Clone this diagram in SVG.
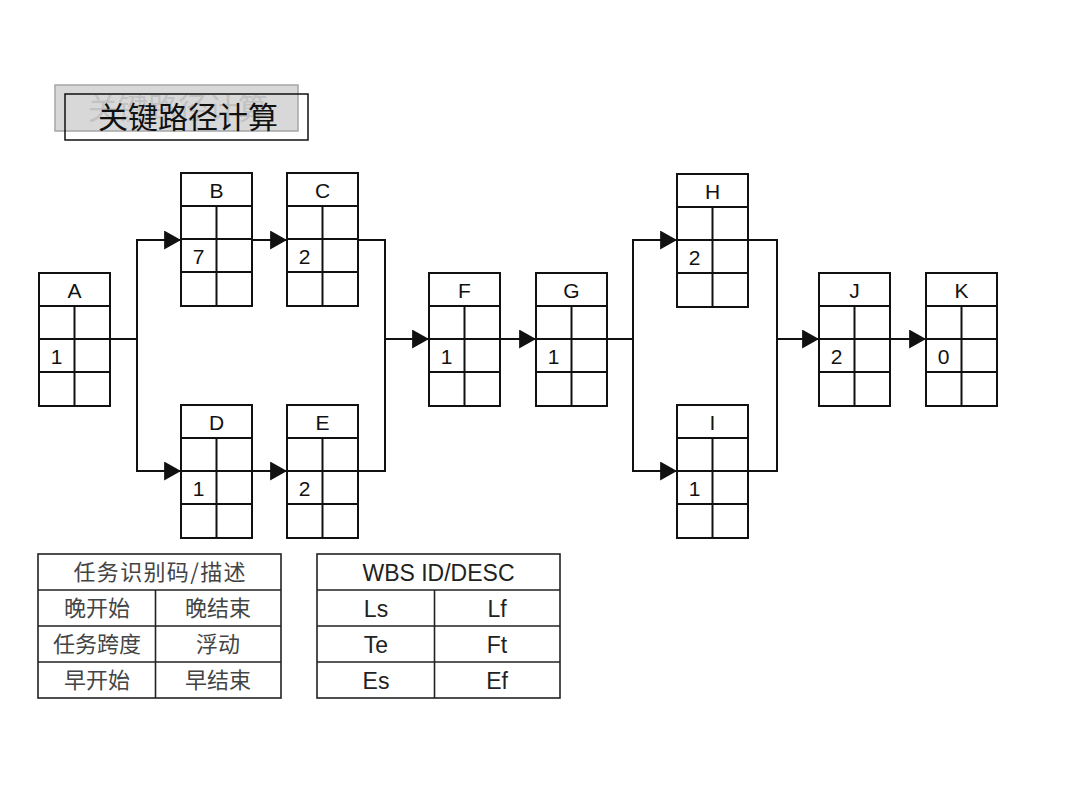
<svg xmlns="http://www.w3.org/2000/svg" width="1080" height="810" viewBox="0 0 1080 810">
<style>
.box{fill:none;stroke:#111;stroke-width:2}
.lbl{font-family:"Liberation Sans",Arial,sans-serif;font-size:21px;fill:#111;text-anchor:middle}
.conn{fill:none;stroke:#111;stroke-width:2}
.tbl{fill:none;stroke:#222;stroke-width:1.6}
.cjk{font-family:"Noto Sans CJK SC",sans-serif;font-size:22px;fill:#444;text-anchor:middle}
.lat{font-family:"Liberation Sans",Arial,sans-serif;font-size:23px;fill:#222;text-anchor:middle}
.title{font-family:"Noto Sans CJK SC",sans-serif;font-size:30px}
</style>
<defs>
<marker id="arr" markerUnits="userSpaceOnUse" viewBox="0 0 16 18" refX="16" refY="9" markerWidth="17" markerHeight="19" orient="auto">
<path d="M0,0 L16,9 L0,18 z" fill="#111"/>
</marker>
<clipPath id="ghostclip"><rect x="55" y="95" width="243" height="36"/></clipPath>
<g id="cell">
<rect class="box" x="0" y="0" width="71" height="133"/>
<line class="box" x1="0" y1="33" x2="71" y2="33"/>
<line class="box" x1="0" y1="66" x2="71" y2="66"/>
<line class="box" x1="0" y1="99" x2="71" y2="99"/>
<line class="box" x1="35.5" y1="33" x2="35.5" y2="133"/>
</g>
</defs>
<rect width="1080" height="810" fill="#fff"/>

<g id="title">
<rect x="55" y="85" width="243" height="46" fill="#d8d8d8" stroke="#a6a6a6" stroke-width="1.5"/>
<text class="title" x="88" y="119" fill="#c2c2c2" clip-path="url(#ghostclip)">关键路径计算</text>
<rect x="65" y="94" width="243" height="46" fill="none" stroke="#111" stroke-width="1.5"/>
<text class="title" x="98" y="128" fill="#111">关键路径计算</text>
</g>

<g id="connectors">
<polyline class="conn" points="110,339 137,339"/>
<line class="conn" x1="137" y1="239" x2="137" y2="472"/>
<line class="conn" x1="137" y1="240" x2="181" y2="240" marker-end="url(#arr)"/>
<line class="conn" x1="137" y1="471" x2="181" y2="471" marker-end="url(#arr)"/>
<line class="conn" x1="252" y1="240" x2="287" y2="240" marker-end="url(#arr)"/>
<line class="conn" x1="252" y1="471" x2="287" y2="471" marker-end="url(#arr)"/>
<line class="conn" x1="358" y1="240" x2="385" y2="240"/>
<line class="conn" x1="358" y1="471" x2="385" y2="471"/>
<line class="conn" x1="385" y1="239" x2="385" y2="472"/>
<line class="conn" x1="385" y1="339" x2="429" y2="339" marker-end="url(#arr)"/>
<line class="conn" x1="500" y1="339" x2="536" y2="339" marker-end="url(#arr)"/>
<line class="conn" x1="607" y1="339" x2="633" y2="339"/>
<line class="conn" x1="633" y1="239" x2="633" y2="472"/>
<line class="conn" x1="633" y1="240" x2="677" y2="240" marker-end="url(#arr)"/>
<line class="conn" x1="633" y1="471" x2="677" y2="471" marker-end="url(#arr)"/>
<line class="conn" x1="748" y1="240" x2="777" y2="240"/>
<line class="conn" x1="748" y1="471" x2="777" y2="471"/>
<line class="conn" x1="777" y1="239" x2="777" y2="472"/>
<line class="conn" x1="777" y1="339" x2="819" y2="339" marker-end="url(#arr)"/>
<line class="conn" x1="890" y1="339" x2="926" y2="339" marker-end="url(#arr)"/>
</g>

<g id="node-A" transform="translate(39,273)"><use href="#cell"/><text class="lbl" x="35.5" y="25">A</text><text class="lbl" x="17.5" y="91">1</text></g>
<g id="node-B" transform="translate(181,173)"><use href="#cell"/><text class="lbl" x="35.5" y="25">B</text><text class="lbl" x="17.5" y="91">7</text></g>
<g id="node-C" transform="translate(287,173)"><use href="#cell"/><text class="lbl" x="35.5" y="25">C</text><text class="lbl" x="17.5" y="91">2</text></g>
<g id="node-D" transform="translate(181,405)"><use href="#cell"/><text class="lbl" x="35.5" y="25">D</text><text class="lbl" x="17.5" y="91">1</text></g>
<g id="node-E" transform="translate(287,405)"><use href="#cell"/><text class="lbl" x="35.5" y="25">E</text><text class="lbl" x="17.5" y="91">2</text></g>
<g id="node-F" transform="translate(429,273)"><use href="#cell"/><text class="lbl" x="35.5" y="25">F</text><text class="lbl" x="17.5" y="91">1</text></g>
<g id="node-G" transform="translate(536,273)"><use href="#cell"/><text class="lbl" x="35.5" y="25">G</text><text class="lbl" x="17.5" y="91">1</text></g>
<g id="node-H" transform="translate(677,174)"><use href="#cell"/><text class="lbl" x="35.5" y="25">H</text><text class="lbl" x="17.5" y="91">2</text></g>
<g id="node-I" transform="translate(677,405)"><use href="#cell"/><text class="lbl" x="35.5" y="25">I</text><text class="lbl" x="17.5" y="91">1</text></g>
<g id="node-J" transform="translate(819,273)"><use href="#cell"/><text class="lbl" x="35.5" y="25">J</text><text class="lbl" x="17.5" y="91">2</text></g>
<g id="node-K" transform="translate(926,273)"><use href="#cell"/><text class="lbl" x="35.5" y="25">K</text><text class="lbl" x="17.5" y="91">0</text></g>

<g id="legend-cn">
<rect class="tbl" x="38" y="554" width="243" height="144"/>
<line class="tbl" x1="38" y1="590" x2="281" y2="590"/>
<line class="tbl" x1="38" y1="626" x2="281" y2="626"/>
<line class="tbl" x1="38" y1="662" x2="281" y2="662"/>
<line class="tbl" x1="155.5" y1="590" x2="155.5" y2="698"/>
<text class="cjk" x="159.5" y="580" textLength="172" lengthAdjust="spacing">任务识别码/描述</text>
<text class="cjk" x="97" y="616">晚开始</text>
<text class="cjk" x="218" y="616">晚结束</text>
<text class="cjk" x="97" y="652">任务跨度</text>
<text class="cjk" x="218" y="652">浮动</text>
<text class="cjk" x="97" y="688">早开始</text>
<text class="cjk" x="218" y="688">早结束</text>
</g>

<g id="legend-en">
<rect class="tbl" x="317" y="554" width="243" height="144"/>
<line class="tbl" x1="317" y1="590" x2="560" y2="590"/>
<line class="tbl" x1="317" y1="626" x2="560" y2="626"/>
<line class="tbl" x1="317" y1="662" x2="560" y2="662"/>
<line class="tbl" x1="434.5" y1="590" x2="434.5" y2="698"/>
<text class="lat" x="438.5" y="581">WBS ID/DESC</text>
<text class="lat" x="376" y="617">Ls</text>
<text class="lat" x="497" y="617">Lf</text>
<text class="lat" x="376" y="653">Te</text>
<text class="lat" x="497" y="653">Ft</text>
<text class="lat" x="376" y="689">Es</text>
<text class="lat" x="497" y="689">Ef</text>
</g>
</svg>
